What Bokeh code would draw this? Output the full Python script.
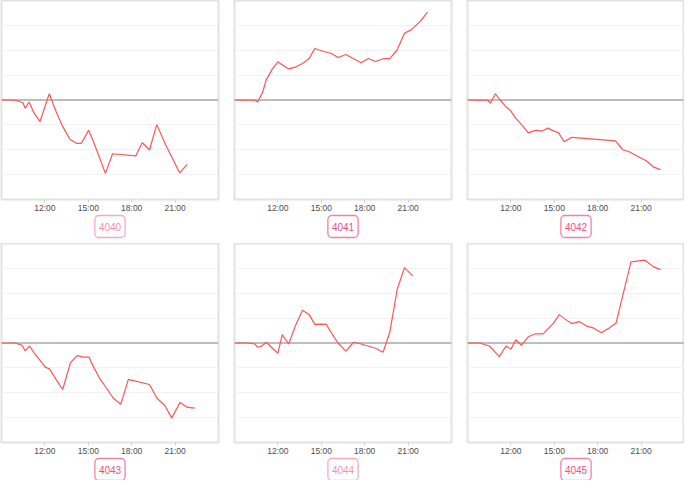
from bokeh.plotting import figure
from bokeh.layouts import gridplot
from bokeh.models import FixedTicker, Grid, Span, Title, Range1d
from bokeh.embed import file_html
from bokeh.resources import INLINE

# ---------------- data ----------------
TICK_HOURS = [12, 15, 18, 21]
TICK_LABELS = ["12:00", "15:00", "18:00", "21:00"]
GRID_LEVELS = [-3, -2, -1, 1, 2, 3]
X_START, X_END = 9, 24
Y_MIN, Y_MAX = -4, 4

PANEL_NAMES = ["4040", "4041", "4042", "4043", "4044", "4045"]

s4040_hours = [9.0, 9.80, 10.14, 10.48, 10.64, 10.91, 11.23, 11.66, 12.30, 12.75, 13.20, 13.73,
               14.18, 14.52, 15.02, 15.36, 16.18, 16.68, 18.27, 18.73, 19.23, 19.73, 20.36,
               21.32, 21.84]
s4040_values = [0, 0, -0.04, -0.11, -0.33, -0.08, -0.50, -0.87, 0.25, -0.43, -1.03, -1.58,
                -1.74, -1.74, -1.22, -1.68, -2.95, -2.16, -2.25, -1.72, -2.01, -0.99, -1.82,
                -2.93, -2.59]

s4041_hours = [9.0, 10.41, 10.59, 10.93, 11.20, 11.61, 12.0, 12.75, 13.20, 13.70, 14.16, 14.55,
               15.07, 15.70, 16.16, 16.70, 17.23, 17.75, 18.25, 18.75, 19.27, 19.73, 20.23,
               20.75, 21.20, 21.84, 22.34]
s4041_values = [0, -0.01, -0.08, 0.29, 0.82, 1.24, 1.53, 1.25, 1.32, 1.47, 1.67, 2.07,
                1.97, 1.87, 1.71, 1.83, 1.66, 1.50, 1.67, 1.55, 1.66, 1.66, 2.00,
                2.68, 2.82, 3.16, 3.53]

s4042_hours = [9.0, 10.41, 10.59, 10.93, 11.27, 11.66, 11.95, 12.34, 12.80, 13.20, 13.70, 14.16,
               14.55, 14.95, 15.30, 15.68, 16.20, 19.23, 19.73, 20.18, 20.75, 21.32, 21.89, 22.34]
s4042_values = [0, -0.01, -0.13, 0.25, -0.01, -0.28, -0.41, -0.74, -1.03, -1.32, -1.22, -1.25,
                -1.13, -1.24, -1.32, -1.68, -1.50, -1.64, -2.00, -2.08, -2.26, -2.43, -2.70, -2.80]

s4043_hours = [9.0, 9.91, 10.43, 10.64, 10.95, 11.27, 11.68, 12.02, 12.32, 12.77, 13.23, 13.77,
               14.23, 14.64, 15.05, 15.32, 15.77, 16.23, 16.73, 17.25, 17.77, 19.23, 19.75,
               20.27, 20.77, 21.34, 21.86, 22.36]
s4043_values = [0, 0, -0.09, -0.32, -0.12, -0.42, -0.71, -0.97, -1.04, -1.46, -1.87, -0.79,
                -0.51, -0.57, -0.57, -0.91, -1.41, -1.79, -2.22, -2.46, -1.46, -1.67, -2.22,
                -2.50, -3.01, -2.39, -2.59, -2.62]

s4044_hours = [9.0, 9.95, 10.41, 10.59, 10.86, 11.20, 11.61, 12.0, 12.30, 12.75, 13.20, 13.70,
               14.16, 14.55, 15.0, 15.34, 15.75, 16.16, 16.70, 17.23, 17.75, 18.75, 19.27,
               19.73, 20.25, 20.75, 21.32]
s4044_values = [0, 0, -0.04, -0.17, -0.13, 0.03, -0.20, -0.41, 0.34, -0.04, 0.68, 1.32,
                1.14, 0.75, 0.76, 0.75, 0.36, 0.0, -0.33, 0.03, -0.04, -0.21, -0.37,
                0.42, 2.16, 3.03, 2.70]

s4045_hours = [9.0, 9.84, 10.52, 11.20, 11.66, 12.0, 12.34, 12.73, 13.20, 13.70, 14.23, 14.50,
               14.95, 15.34, 15.75, 16.20, 16.73, 17.23, 17.68, 18.25, 18.82, 19.27, 20.30,
               21.27, 21.84, 22.34]
s4045_values = [0, 0, -0.12, -0.55, -0.12, -0.25, 0.13, -0.09, 0.25, 0.37, 0.37, 0.54,
                0.80, 1.14, 0.96, 0.78, 0.86, 0.68, 0.61, 0.41, 0.61, 0.80, 3.26,
                3.33, 3.07, 2.95]

SERIES = [
    (s4040_hours, s4040_values),
    (s4041_hours, s4041_values),
    (s4042_hours, s4042_values),
    (s4043_hours, s4043_values),
    (s4044_hours, s4044_values),
    (s4045_hours, s4045_values),
]

# ---------------- style ----------------
LINE_COLOR = "#ff5454"
LABEL_STYLES = [
    ("#f58fb0", "#f8a9c2"),   # light (text, border)
    ("#ee4f80", "#f281a6"),
    ("#ee4f80", "#f281a6"),
    ("#ee4f80", "#f281a6"),
    ("#f58fb0", "#f8a9c2"),
    ("#ee4f80", "#f281a6"),
]
COL_WIDTHS = [233, 233, 218]
COL_RIGHT = [15, 15, 0]
ROW_HEIGHTS = [243, 237]
ROW_BOTTOM = [44, 38]


def make_panel(i):
    row, col = divmod(i, 3)
    hours, values = SERIES[i]
    p = figure(width=COL_WIDTHS[col], height=ROW_HEIGHTS[row],
               x_range=Range1d(X_START, X_END), y_range=Range1d(Y_MIN, Y_MAX),
               output_backend="svg", toolbar_location=None, y_axis_location=None,
               min_border_left=1, min_border_right=COL_RIGHT[col],
               min_border_top=0, min_border_bottom=ROW_BOTTOM[row])
    p.background_fill_color = "white"
    p.border_fill_color = "white"
    p.outline_line_color = "#e2e2e2"
    p.outline_line_width = 2

    ax = p.xaxis[0]
    ax.ticker = FixedTicker(ticks=TICK_HOURS)
    ax.major_label_overrides = {h: lab for h, lab in zip(TICK_HOURS, TICK_LABELS)}
    ax.axis_line_color = None
    ax.major_tick_in = 0
    ax.major_tick_out = 3
    ax.major_tick_line_color = "#d0d0d0"
    ax.minor_tick_line_color = None
    ax.major_label_standoff = 0
    ax.major_label_text_font = "Liberation Sans"
    ax.major_label_text_font_size = "8.5px"
    ax.major_label_text_color = "#4d4d4d"
    p.xgrid.grid_line_color = None

    p.add_layout(Grid(dimension=1, ticker=FixedTicker(ticks=GRID_LEVELS),
                      grid_line_color="#f2f2f2", grid_line_width=1))
    zero = Span(location=0, dimension="width", line_color="#bdbdbd", line_width=2)
    zero.level = "underlay"
    p.add_layout(zero)

    p.line(hours, values, line_color=LINE_COLOR, line_width=1.2)

    txt_c, bdr_c = LABEL_STYLES[i]
    t = Title(text=PANEL_NAMES[i], align="center",
              text_font="Liberation Sans", text_font_size="10px", text_font_style="normal",
              text_color=txt_c, background_fill_color="white", border_line_color=bdr_c,
              border_line_width=1.3, border_radius=4, padding=(4, 7), standoff=-4)
    p.add_layout(t, "below")
    return p


panels = [make_panel(i) for i in range(6)]
grid = gridplot([panels[0:3], panels[3:6]], toolbar_location=None)

open("out.html", "w").write(file_html(grid, INLINE))
